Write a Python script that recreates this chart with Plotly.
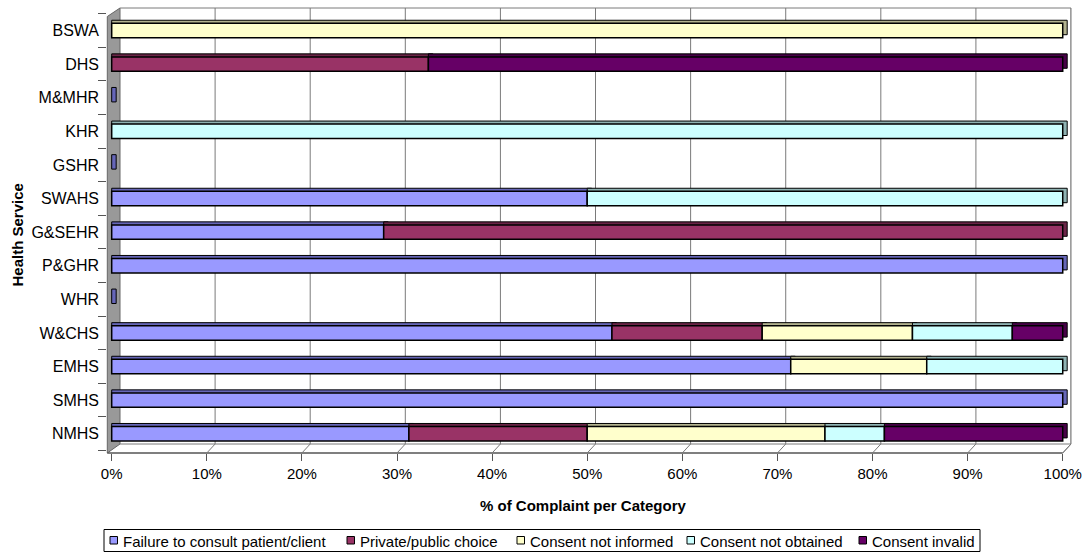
import numpy as np
import plotly.graph_objects as go

# Health services, bottom row first
services = ["NMHS", "SMHS", "EMHS", "W&CHS", "WHR", "P&GHR", "G&SEHR",
            "SWAHS", "GSHR", "KHR", "M&MHR", "DHS", "BSWA"]

# Share of complaints (%) per category for each service
failure_to_consult = [31.25, 100, 71.4, 52.6, 0, 100, 28.6, 50, 0, 0, 0, 0, 0]
private_public = [18.75, 0, 0, 15.8, 0, 0, 71.4, 0, 0, 0, 0, 33.3, 0]
not_informed = [25.0, 0, 14.3, 15.8, 0, 0, 0, 0, 0, 0, 0, 0, 100]
not_obtained = [6.25, 0, 14.3, 10.5, 0, 0, 0, 50, 0, 100, 0, 0, 0]
consent_invalid = [18.75, 0, 0, 5.3, 0, 0, 0, 0, 0, 0, 0, 66.7, 0]

series_names = ["Failure to consult patient/client", "Private/public choice",
                "Consent not informed", "Consent not obtained", "Consent invalid"]
series_values = [failure_to_consult, private_public, not_informed,
                 not_obtained, consent_invalid]

x_tick_values = [0, 10, 20, 30, 40, 50, 60, 70, 80, 90, 100]
x_tick_labels = ["0%", "10%", "20%", "30%", "40%", "50%", "60%", "70%",
                 "80%", "90%", "100%"]

front_colors = ["#9999FF", "#993366", "#FFFFCC", "#CCFFFF", "#660066"]
depth_colors = ["#6666B8", "#6B2447", "#B3B38F", "#8FB3B3", "#470047"]

FONT = "Liberation Sans, Arial, sans-serif"

# Plot-area placement in pixels
W, H = 1085, 553
PL, PR, PT, PB = 107, 1071, 8, 453

BAR_W = 0.43        # bar thickness (category units)
DEPTH_X = 0.47      # bar depth along value axis (% units)
DEPTH_Y = 0.09      # bar depth along category axis


def px(x):
    return (x - PL) / (PR - PL)


def py(y):
    return (PB - y) / (PB - PT)


fig = go.Figure()

vals = np.array(series_values, dtype=float)
starts = np.vstack([np.zeros(len(services)), np.cumsum(vals, axis=0)[:-1]])
row_totals = vals.sum(axis=0)

# Depth faces (top / right end of each 3-D bar); empty rows keep the end cap
for i, (v, b, c) in enumerate(zip(vals, starts, depth_colors)):
    xs = []
    for val, tot in zip(v, row_totals):
        if val > 0 or (i == 0 and tot == 0):
            xs.append(val + DEPTH_X)
        else:
            xs.append(None)
    fig.add_trace(go.Bar(
        y=services, x=xs, base=b, orientation="h",
        width=BAR_W, offset=-BAR_W / 2 + DEPTH_Y,
        marker=dict(color=c, line=dict(color="black", width=1)),
        showlegend=False, hoverinfo="skip"))

# Front faces
for name, v, b, c in zip(series_names, vals, starts, front_colors):
    xs = [val if val > 0 else None for val in v]
    fig.add_trace(go.Bar(
        y=services, x=xs, base=b, orientation="h", name=name,
        width=BAR_W, offset=-BAR_W / 2, showlegend=False,
        marker=dict(color=c, line=dict(color="black", width=1.5))))

shapes = []
GRID = "#7a7a7a"
BACK_DX = 8.3      # back-wall offset (px) from front position
BACK_FLOOR = 444

# left side wall
shapes.append(dict(
    type="path", xref="paper", yref="paper", layer="below",
    path=(f"M {px(107.3)} {py(16.5)} L {px(120)} {py(8)} "
          f"L {px(120)} {py(BACK_FLOOR)} L {px(107.3)} {py(453)} Z"),
    fillcolor="#999999", line=dict(color="#666666", width=1)))

# back wall outline
shapes.append(dict(type="line", xref="paper", yref="paper", layer="below",
                   x0=px(120), x1=px(1071), y0=py(8), y1=py(8),
                   line=dict(color=GRID, width=1)))
shapes.append(dict(type="line", xref="paper", yref="paper", layer="below",
                   x0=px(1071), x1=px(1071), y0=py(8), y1=py(BACK_FLOOR),
                   line=dict(color=GRID, width=1)))
shapes.append(dict(type="line", xref="paper", yref="paper", layer="below",
                   x0=px(120), x1=px(1071), y0=py(BACK_FLOOR), y1=py(BACK_FLOOR),
                   line=dict(color=GRID, width=1)))
# floor front edge and right corner
shapes.append(dict(type="line", xref="paper", yref="paper", layer="below",
                   x0=px(107.3), x1=px(1062.7), y0=py(453), y1=py(453),
                   line=dict(color="#555555", width=1.5)))
shapes.append(dict(type="line", xref="paper", yref="paper", layer="below",
                   x0=px(1062.7), x1=px(1071), y0=py(453), y1=py(BACK_FLOOR),
                   line=dict(color=GRID, width=1)))

# vertical gridlines on the back wall and their floor connectors
for k in x_tick_values[1:]:
    shapes.append(dict(type="line", xref="x", yref="paper", layer="below",
                       xsizemode="pixel", xanchor=k, x0=BACK_DX, x1=BACK_DX,
                       y0=py(8), y1=py(BACK_FLOOR),
                       line=dict(color=GRID, width=1)))
    shapes.append(dict(type="line", xref="x", yref="paper", layer="below",
                       xsizemode="pixel", xanchor=k, x0=0, x1=BACK_DX,
                       y0=py(453), y1=py(BACK_FLOOR),
                       line=dict(color=GRID, width=1)))

annotations = [
    dict(text="<b>% of Complaint per Category</b>", xref="paper", yref="paper",
         x=px(583.5), y=py(506), xanchor="center", yanchor="middle",
         showarrow=False, font=dict(size=15, color="black", family=FONT)),
    dict(text="<b>Health Service</b>", xref="paper", yref="paper",
         x=px(16.5), y=py(235), xanchor="center", yanchor="middle",
         showarrow=False, textangle=-90,
         font=dict(size=15, color="black", family=FONT)),
]

# Legend box with a swatch and label per series
shapes.append(dict(type="rect", xref="paper", yref="paper",
                   x0=px(104), x1=px(980), y0=py(529.5), y1=py(551.5),
                   line=dict(color="black", width=1), fillcolor="white"))
legend_x = [110, 347, 517, 687, 859]
for name, c, lx in zip(series_names, front_colors, legend_x):
    shapes.append(dict(type="rect", xref="paper", yref="paper",
                       x0=px(lx), x1=px(lx + 7.5), y0=py(536.5), y1=py(544),
                       line=dict(color="black", width=1), fillcolor=c))
    annotations.append(dict(text=name, xref="paper", yref="paper",
                            x=px(lx + 11), y=py(541), xanchor="left",
                            yanchor="middle", showarrow=False,
                            font=dict(size=15, color="black", family=FONT)))

fig.update_layout(
    width=W, height=H,
    margin=dict(l=PL, r=W - PR, t=PT, b=H - PB, pad=0, autoexpand=False),
    barmode="overlay", showlegend=False,
    paper_bgcolor="white", plot_bgcolor="white",
    font=dict(family=FONT, size=15, color="black"),
    shapes=shapes, annotations=annotations,
    xaxis=dict(range=[-0.494, 100.87], tickmode="array",
               tickvals=x_tick_values, ticktext=x_tick_labels,
               showgrid=False, zeroline=False, showline=False,
               ticks="outside", ticklen=7, tickcolor="#555555",
               tickfont=dict(size=15, color="black")),
    yaxis=dict(type="category", categoryorder="array", categoryarray=services,
               range=[-0.574, 12.67], showgrid=False, zeroline=False,
               showline=False, ticks="outside", ticklen=8, tickson="boundaries",
               tickcolor="#555555", ticklabelstandoff=7,
               tickfont=dict(size=16, color="black")),
)

fig.write_html("out.html")
